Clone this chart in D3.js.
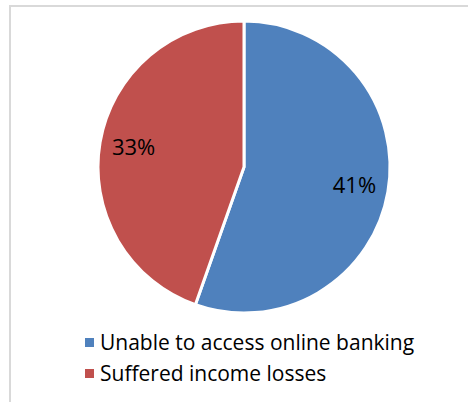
<!DOCTYPE html>
<html>
<head>
<meta charset="utf-8">
<script src="https://cdn.jsdelivr.net/npm/d3@7"></script>
<style>
  body { margin: 0; background: #fff; }
  svg { display: block; }
</style>
</head>
<body>
<div id="chart"></div>
<script>
// chart data
var categories = ["Unable to access online banking", "Suffered income losses"];
var values = [41, 33];
var labels = ["41%", "33%"];
var colors = ["#4f81bd", "#c0504d"];

var svgWidth = 468;
var svgHeight = 402;

var svg = d3.select("#chart")
    .append("svg")
    .attr("width", svgWidth)
    .attr("height", svgHeight);

// light frame around the plot (top and left edges visible)
svg.append("rect")
    .attr("x", 10)
    .attr("y", 6)
    .attr("width", svgWidth)
    .attr("height", svgHeight)
    .attr("fill", "none")
    .attr("stroke", "#d9d9d9")
    .attr("stroke-width", 2);

var cx = 244, cy = 167, radius = 146;

var pie = d3.pie().sort(null).value(d => d);
var arc = d3.arc().innerRadius(0).outerRadius(radius);
var labelArc = d3.arc().innerRadius(112).outerRadius(112);

var pieGroup = svg.append("g")
    .attr("transform", `translate(${cx}, ${cy})`);

var slices = pie(values);

pieGroup.selectAll("path")
    .data(slices)
    .enter()
    .append("path")
    .attr("d", arc)
    .attr("fill", (d, i) => colors[i])
    .attr("stroke", "#fff")
    .attr("stroke-width", 3)
    .attr("stroke-linejoin", "round");

pieGroup.selectAll("text")
    .data(slices)
    .enter()
    .append("text")
    .attr("transform", d => `translate(${labelArc.centroid(d)})`)
    .attr("text-anchor", "middle")
    .attr("dy", "0.3em")
    .attr("font-family", "'Open Sans', sans-serif")
    .attr("font-size", "22px")
    .attr("fill", "#000")
    .text((d, i) => labels[i]);

// legend
var legend = svg.append("g")
    .attr("transform", "translate(85, 343)");

var item = legend.selectAll("g")
    .data(categories)
    .enter()
    .append("g")
    .attr("transform", (d, i) => `translate(0, ${i * 31})`);

item.append("rect")
    .attr("x", 0)
    .attr("y", -5)
    .attr("width", 9)
    .attr("height", 9)
    .attr("fill", (d, i) => colors[i]);

item.append("text")
    .attr("x", 15)
    .attr("y", 0)
    .attr("dy", "0.35em")
    .attr("font-family", "'Open Sans', sans-serif")
    .attr("font-size", "21px")
    .attr("fill", "#000")
    .text(d => d);
</script>
</body>
</html>
